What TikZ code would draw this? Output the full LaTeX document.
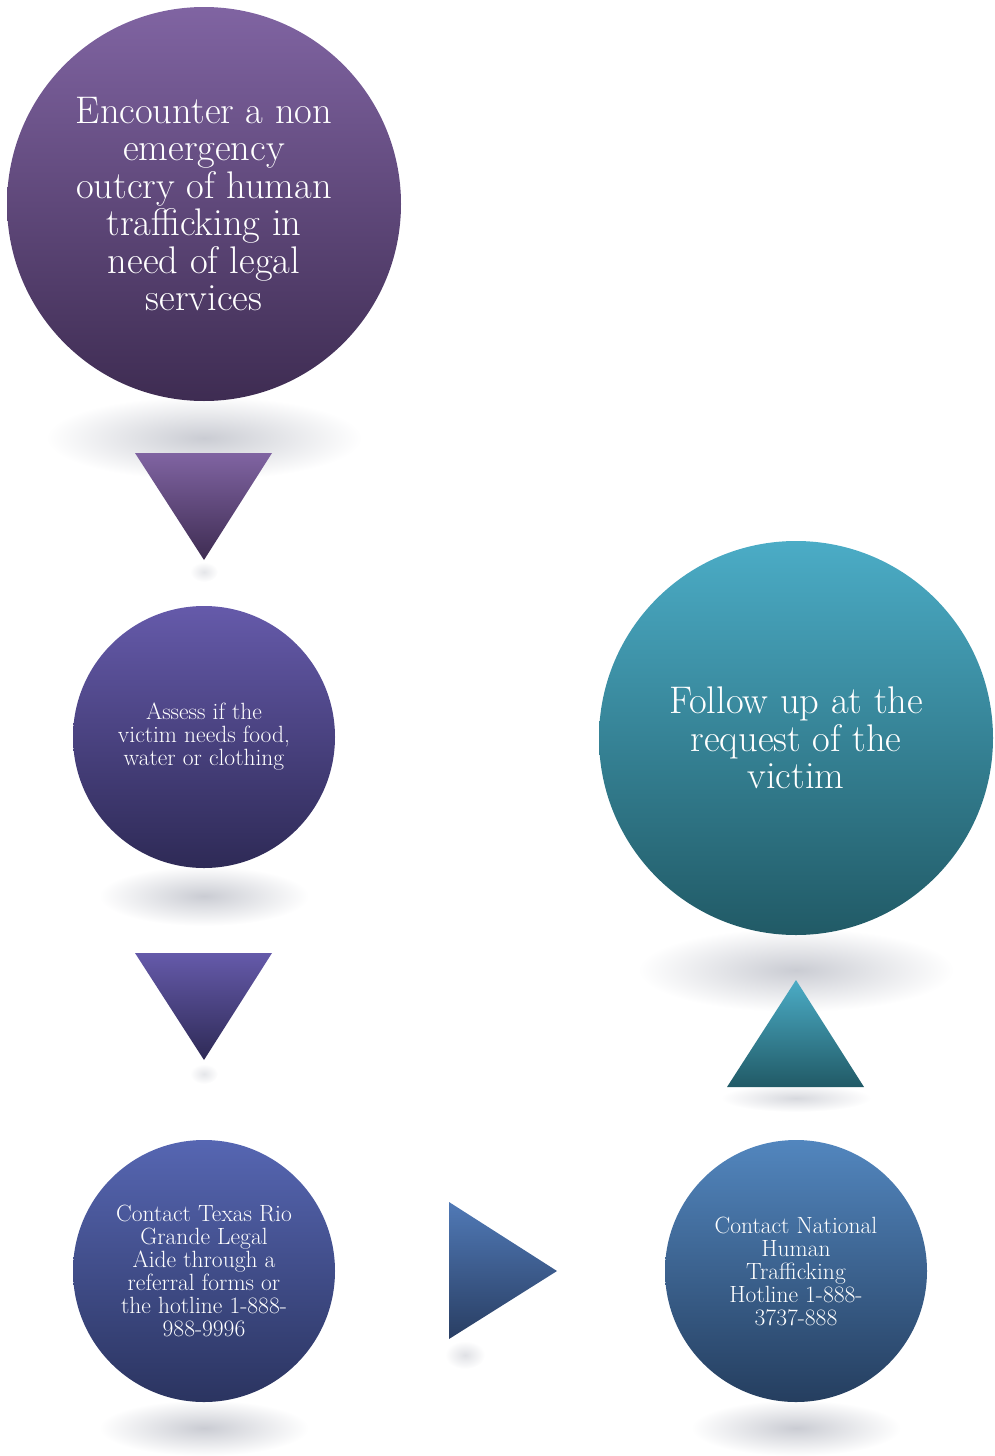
\documentclass[tikz,border=0pt]{standalone}
\definecolor{pA1}{RGB}{128,100,162}
\definecolor{pA2}{RGB}{62,44,82}
\definecolor{pB1}{RGB}{101,90,170}
\definecolor{pB2}{RGB}{46,42,86}
\definecolor{pC1}{RGB}{86,102,178}
\definecolor{pC2}{RGB}{43,52,96}
\definecolor{pD1}{RGB}{80,121,182}
\definecolor{pD2}{RGB}{41,62,99}
\definecolor{pE1}{RGB}{82,134,190}
\definecolor{pE2}{RGB}{37,62,95}
\definecolor{pF1}{RGB}{75,172,198}
\definecolor{pF2}{RGB}{33,90,102}
\definecolor{shd}{RGB}{202,204,211}
\begin{document}
\begin{tikzpicture}[x=1pt,y=-1pt,
  bubble/.style={circle, inner sep=0pt, text=white, align=center},
  bigbubble/.style={bubble, minimum size=394pt, font=\fontsize{38.5}{37.5}\selectfont},
  smallbubble/.style={bubble, minimum size=262pt, font=\fontsize{23.5}{23}\selectfont},
  softshadow/.style={inner color=shd, outer color=white}
]
\useasboundingbox (0,0) rectangle (995,1456);
% reflections / shadows
\shade[softshadow] (204,438) ellipse (158pt and 42pt);
\shade[softshadow] (204,896) ellipse (105pt and 30pt);
\shade[softshadow] (204,1428) ellipse (105pt and 28pt);
\shade[softshadow] (796,1428) ellipse (105pt and 28pt);
\shade[softshadow] (796,970) ellipse (158pt and 42pt);
\shade[inner color=shd!50, outer color=white] (204,572) ellipse (14pt and 10pt);
\shade[inner color=shd!50, outer color=white] (204,1074) ellipse (14pt and 10pt);
\shade[inner color=shd!75, outer color=white] (796,1098) ellipse (75pt and 14pt);
\shade[inner color=shd!60, outer color=white] (465,1355) ellipse (20pt and 14pt);
% circles
\node[bigbubble, top color=pA1, bottom color=pA2] (n1) at (204,204)
  {Encounter a non\\emergency\\outcry of human\\trafficking in\\need of legal\\services};
\node[smallbubble, top color=pB1, bottom color=pB2] (n2) at (204,737)
  {Assess if the\\victim needs food,\\water or clothing};
\node[smallbubble, top color=pC1, bottom color=pC2] (n3) at (204,1271)
  {Contact Texas Rio\\Grande Legal\\Aide through a\\referral forms or\\the hotline 1-888-\\988-9996};
\node[smallbubble, top color=pE1, bottom color=pE2] (n4) at (796,1271)
  {Contact National\\Human\\Trafficking\\Hotline 1-888-\\3737-888};
\node[bigbubble, top color=pF1, bottom color=pF2] (n5) at (796,738)
  {Follow up at the\\request of the\\victim};
% arrow triangles
\shade[top color=pA1, bottom color=pA2] (135,453) -- (272,453) -- (204,560) -- cycle;
\shade[top color=pB1, bottom color=pB2] (135,953) -- (272,953) -- (204,1060) -- cycle;
\shade[top color=pD1, bottom color=pD2] (449,1202) -- (557,1271) -- (449,1339) -- cycle;
\shade[top color=pF1, bottom color=pF2] (796,980) -- (864,1087) -- (727,1087) -- cycle;
\end{tikzpicture}
\end{document}
